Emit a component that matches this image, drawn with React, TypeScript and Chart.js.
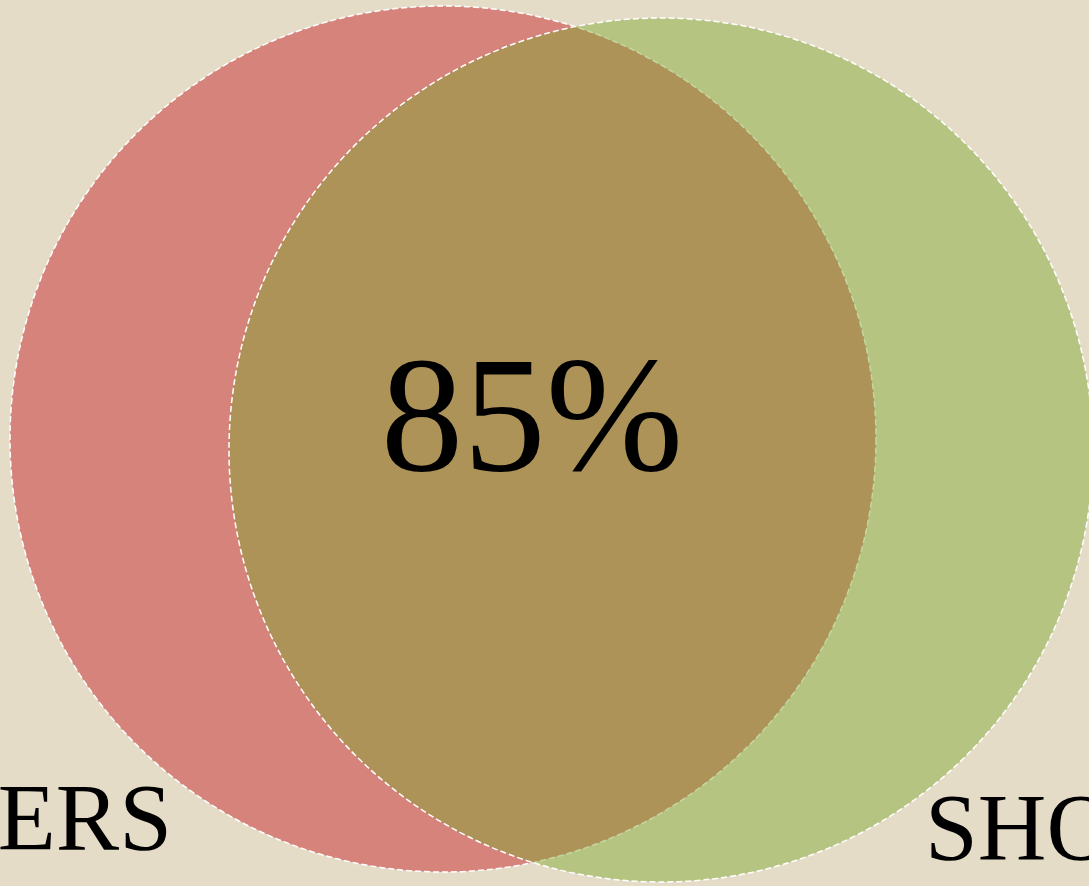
import { useEffect, useRef } from "react";
import { Chart, registerables } from "chart.js";

Chart.register(...registerables);

// Venn sets (layout units)
const setNames = ["ERS", "SHO"];
const setCenterX = [443, 661];
const setCenterY = [439, 450];
const setRadius = [433, 432];

// Overlap
const overlapLabel = "85%";
const overlapAnchor = [532, 470];

// Set label anchors (layout units)
const setLabelX = [172, 925];
const setLabelY = [850, 860];

const W = 1089;
const H = 886;
const BG = "#e5dcc8";
const FILLS = ["rgb(214,131,123)", "rgba(124,167,44,0.45)"];
const FONT = '"Liberation Serif", "DejaVu Serif", serif';

export default function App() {
  const ref = useRef<HTMLCanvasElement | null>(null);

  useEffect(() => {
    const canvas = ref.current;
    if (!canvas) return;

    const dashPlugin = {
      id: "dashBorders",
      beforeDatasetDraw(chart: any) {
        chart.ctx.save();
        chart.ctx.setLineDash([6, 3]);
      },
      afterDatasetDraw(chart: any) {
        chart.ctx.restore();
      },
    };

    const textPlugin = {
      id: "vennText",
      afterDatasetsDraw(chart: any) {
        const { ctx, scales } = chart;
        const xs = scales.x;
        const ys = scales.y;
        ctx.save();
        ctx.fillStyle = "#000";
        ctx.textBaseline = "alphabetic";
        ctx.font = `165px ${FONT}`;
        ctx.textAlign = "center";
        ctx.fillText(
          overlapLabel,
          xs.getPixelForValue(overlapAnchor[0]),
          ys.getPixelForValue(overlapAnchor[1])
        );
        ctx.font = `95px ${FONT}`;
        ctx.textAlign = "right";
        ctx.fillText(
          setNames[0],
          xs.getPixelForValue(setLabelX[0]),
          ys.getPixelForValue(setLabelY[0])
        );
        ctx.textAlign = "left";
        ctx.fillText(
          setNames[1],
          xs.getPixelForValue(setLabelX[1]),
          ys.getPixelForValue(setLabelY[1])
        );
        ctx.restore();
      },
    };

    const radiusFor = (c: any) => {
      const xs = c.chart.scales.x;
      if (!xs || c.dataIndex == null) return 0;
      const r = setRadius[c.dataIndex];
      const px = Math.abs(xs.getPixelForValue(r) - xs.getPixelForValue(0));
      return isFinite(px) ? px : 0;
    };

    const chart = new Chart(canvas, {
      type: "scatter",
      data: {
        datasets: [
          {
            label: "sets",
            data: setCenterX.map((x, i) => ({ x, y: setCenterY[i] })) as any,
            pointBackgroundColor: (c: any) => FILLS[c.dataIndex] ?? FILLS[0],
            pointBorderColor: "#ffffff",
            pointBorderWidth: 1.5,
            pointHoverBorderWidth: 1.5,
            pointRadius: radiusFor,
            pointHoverRadius: radiusFor,
            showLine: false,
            clip: false as any,
          } as any,
        ],
      },
      options: {
        responsive: false,
        animation: false,
        devicePixelRatio: 1,
        events: [],
        layout: { padding: 0 },
        plugins: {
          legend: { display: false },
          tooltip: { enabled: false },
        },
        scales: {
          x: { type: "linear", min: 0, max: W, display: false },
          y: { type: "linear", min: 0, max: H, reverse: true, display: false },
        },
      },
      plugins: [dashPlugin, textPlugin],
    });

    return () => chart.destroy();
  }, []);

  return (
    <div
      style={{
        position: "fixed",
        left: 0,
        top: 0,
        width: W,
        height: H,
        background: BG,
        overflow: "hidden",
      }}
    >
      <canvas ref={ref} width={W} height={H} style={{ display: "block" }} />
    </div>
  );
}
